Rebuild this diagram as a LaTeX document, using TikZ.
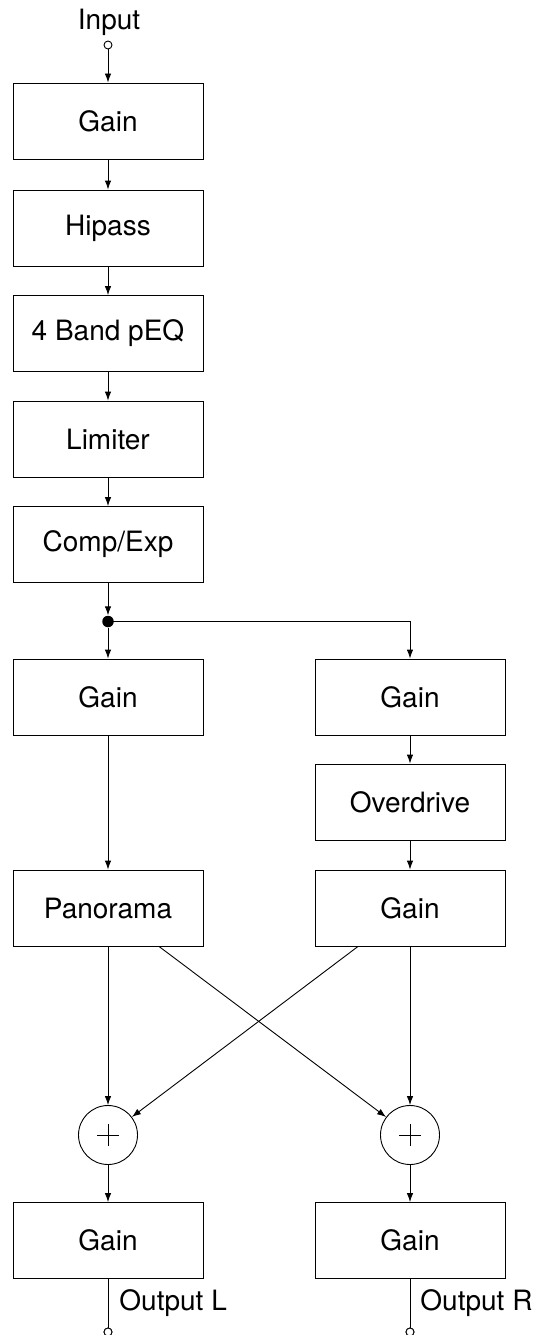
\documentclass[tikz,border=0pt]{standalone}
\usepackage{fontspec}
\setmainfont{TeX Gyre Heros}
\usetikzlibrary{arrows.meta,calc}
\begin{document}
\begin{tikzpicture}[x=1pt,y=-1pt,
  line width=0.9pt,
  >={Latex[length=9pt,width=6.5pt]},
  font=\fontsize{28}{33}\selectfont,
  block/.style={draw, minimum width=190pt, minimum height=76pt, inner sep=0pt},
  port/.style={draw, circle, fill=white, minimum size=8pt, inner sep=0pt},
  junction/.style={circle, fill=black, minimum size=11.5pt, inner sep=0pt},
  adder/.style={draw, circle, minimum size=59pt, inner sep=0pt},
  lbl/.style={inner sep=0pt}]

% input terminal
\node[lbl, anchor=base] (intxt) at (109,29.5) {Input};
\node[port] (in) at (108,45) {};

% main chain
\node[block] (g1)   at (108,121)   {Gain};
\node[block] (hip)  at (108,228)   {Hipass};
\node[block] (peq)  at (108,333.5) {4 Band pEQ};
\node[block] (lim)  at (108,439)   {Limiter};
\node[block] (comp) at (108,544.5) {Comp/Exp};
\node[junction] (j) at (108,621.5) {};

% left branch
\node[block] (gL)  at (108,697) {Gain};
\node[block] (pan) at (108,908) {Panorama};

% right branch
\node[block] (gR)  at (410,697) {Gain};
\node[block] (od)  at (410,802) {Overdrive};
\node[block] (gR2) at (410,908) {Gain};

% summing points
\node[adder] (sL) at (108,1135) {};
\node[adder] (sR) at (410,1135) {};
\foreach \s in {sL,sR}{
  \draw[line width=0.8pt] ($(\s)+(-11,0)$) -- ($(\s)+(11,0)$);
  \draw[line width=0.8pt] ($(\s)+(0,-11)$) -- ($(\s)+(0,11)$);
}

% output stages
\node[block] (oL) at (108,1240.5) {Gain};
\node[block] (oR) at (410,1240.5) {Gain};
\node[port] (outL) at (108,1332) {};
\node[port] (outR) at (410,1332) {};
\node[lbl, anchor=base west] (outLtxt) at (119,1310) {Output L};
\node[lbl, anchor=base west] (outRtxt) at (420,1310) {Output R};

% connections
\draw[->] (in) -- (g1);
\draw[->] (g1) -- (hip);
\draw[->] (hip) -- (peq);
\draw[->] (peq) -- (lim);
\draw[->] (lim) -- (comp);
\draw[->] (comp) -- (j);
\draw[->] (j) -- (gL);
\draw[->] (j.center) -| (gR);
\draw[->] (gL) -- (pan);
\draw[->] (gR) -- (od);
\draw[->] (od) -- (gR2);
\draw[->] (pan) -- (sL);
\draw[->] (gR2) -- (sR);
\draw[->] ($(pan.south)+(51,0)$) -- (sR);
\draw[->] ($(gR2.south)+(-52,0)$) -- (sL);
\draw[->] (sL) -- (oL);
\draw[->] (sR) -- (oR);
\draw (oL) -- (outL);
\draw (oR) -- (outR);
\node[port] at (outL) {};
\node[port] at (outR) {};

\pgfresetboundingbox
\useasboundingbox (0,0) rectangle (538,1335);
\end{tikzpicture}
\end{document}
